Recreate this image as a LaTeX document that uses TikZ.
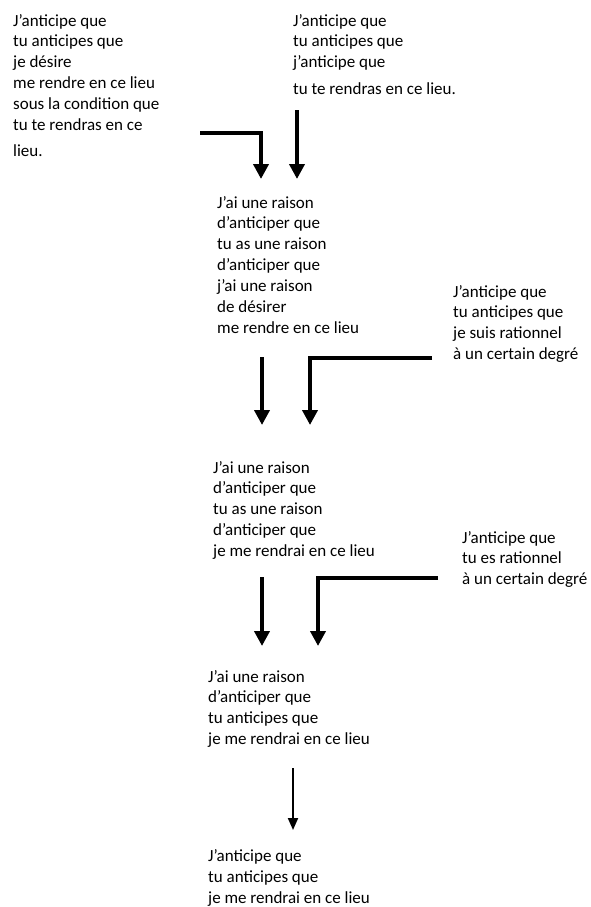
\documentclass[tikz,border=0pt]{standalone}
\usepackage{fontspec}
\setmainfont{Carlito}
\usetikzlibrary{arrows.meta}
\begin{document}
\begin{tikzpicture}[x=1pt,y=-1pt,
  txt/.style={anchor=base west, inner sep=0pt, align=left, font=\fontsize{17}{20.9}\selectfont},
  bigarrow/.style={line width=4pt, -{Triangle[width=15pt,length=15pt]}, line join=miter},
  smallarrow/.style={line width=2pt, -{Triangle[width=10pt,length=12pt]}}]
\useasboundingbox (0,0) rectangle (590,907);

% anchor base = baseline of the LAST line of each block
\node[txt] (a) at (13,156.4) {J’anticipe que\\tu anticipes que\\je désire\\me rendre en ce lieu\\sous la condition que\\tu te rendras en ce\\[5pt]lieu.};
\node[txt] (b) at (293,94.7) {J’anticipe que\\tu anticipes que\\j’anticipe que\\[6pt]tu te rendras en ce lieu.};
\node[txt] (c) at (217,333.4) {J’ai une raison\\d’anticiper que\\tu as une raison\\d’anticiper que\\j’ai une raison\\de désirer\\me rendre en ce lieu};
\node[txt] (d) at (453,359.7) {J’anticipe que\\tu anticipes que\\je suis rationnel\\à un certain degré};
\node[txt] (e) at (213,556.6) {J’ai une raison\\d’anticiper que\\tu as une raison\\d’anticiper que\\je me rendrai en ce lieu};
\node[txt] (f) at (462,584.8) {J’anticipe que\\tu es rationnel\\à un certain degré};
\node[txt] (g) at (208,744.7) {J’ai une raison\\d’anticiper que\\tu anticipes que\\je me rendrai en ce lieu};
\node[txt] (h) at (208,903) {J’anticipe que\\tu anticipes que\\je me rendrai en ce lieu};

\coordinate (a1s) at (200,133); \coordinate (a1e) at (261,179);
\coordinate (b1s) at (297,110); \coordinate (b1e) at (297,179);
\coordinate (c1s) at (262,357); \coordinate (c1e) at (262,425);
\coordinate (d1s) at (432,358); \coordinate (d1e) at (310,425);
\coordinate (e1s) at (262,577); \coordinate (e1e) at (262,646);
\coordinate (f1s) at (438,578); \coordinate (f1e) at (318,646);
\coordinate (g1s) at (293,768); \coordinate (g1e) at (293,830);

\draw[bigarrow] (a1s) -| (a1e);
\draw[bigarrow] (b1s) -- (b1e);
\draw[bigarrow] (c1s) -- (c1e);
\draw[bigarrow] (d1s) -| (d1e);
\draw[bigarrow] (e1s) -- (e1e);
\draw[bigarrow] (f1s) -| (f1e);
\draw[smallarrow] (g1s) -- (g1e);
\end{tikzpicture}
\end{document}
